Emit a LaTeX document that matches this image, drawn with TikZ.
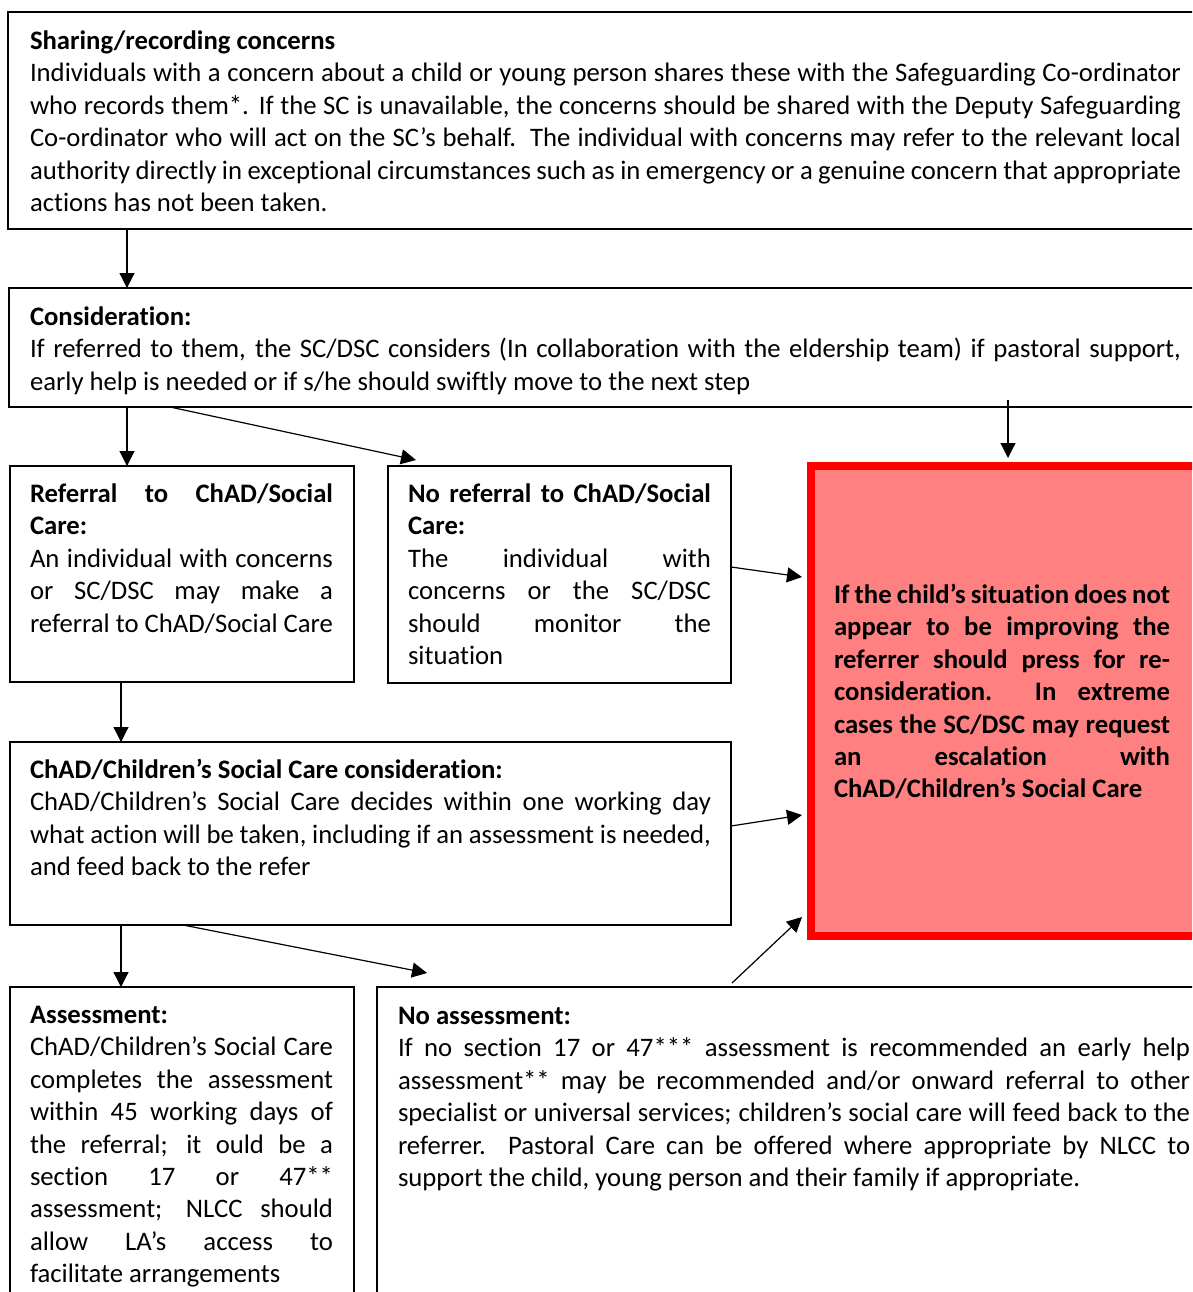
\documentclass[tikz,border=0pt]{standalone}
\usepackage{fontspec}
\setmainfont{Carlito}[RawFeature={-liga;-clig;-calt;-dlig;-rlig}]
\usetikzlibrary{arrows.meta}
\newcommand\myfs{\fontsize{26.7}{32.4}\selectfont}
\definecolor{redfill}{RGB}{255,128,128}
\definecolor{redline}{RGB}{255,0,0}
\tikzset{
  boxnode/.style={draw, line width=1.6pt, rectangle, anchor=north west, inner sep=0pt, outer sep=0pt},
  txt/.style={anchor=north west, inner sep=0pt, outer sep=0pt, align=justify, font=\myfs},
  arr/.style={line width=1.2pt, -{Triangle[length=15pt,width=15pt]}}
}
\begin{document}
\begin{tikzpicture}[x=1pt,y=-1pt]
\useasboundingbox (0,0) rectangle (1192,1292);
\clip (0,0) rectangle (1192,1292);
\fill[white] (0,0) rectangle (1192,1292);
% boxes
\node[boxnode, minimum width=1210pt, minimum height=217pt] (b1) at (8,12) {};
\node[boxnode, minimum width=1210pt, minimum height=119pt] (b2) at (9,288) {};
\node[boxnode, minimum width=344pt, minimum height=216pt] (b3) at (10,466) {};
\node[boxnode, minimum width=343pt, minimum height=217pt] (b4) at (388,466) {};
\node[boxnode, draw=redline, fill=redfill, line width=8pt, minimum width=400pt, minimum height=470pt] (red) at (811,466) {};
\node[boxnode, minimum width=721pt, minimum height=183pt] (b5) at (10,742) {};
\node[boxnode, minimum width=344pt, minimum height=400pt] (b6) at (10,987) {};
\node[boxnode, minimum width=900pt, minimum height=400pt] (b7) at (377,987) {};
% texts
\node[txt, text width=1151pt] (t1) at (30,25.5) {\rule{0pt}{24pt}\textbf{Sharing/recording concerns}\\
Individuals with a concern about a child or young person shares these with the Safeguarding Co-ordinator\linebreak
who records them*. If the SC is unavailable, the concerns should be shared with the Deputy Safeguarding\linebreak
Co-ordinator who will act on the SC’s behalf.\ \ The individual with concerns may refer to the relevant local\linebreak
authority directly in exceptional circumstances such as in emergency or a genuine concern that appropriate\linebreak
actions has not been taken.};
\node[txt, text width=1151pt] (t2) at (30,301.5) {\rule{0pt}{24pt}\textbf{Consideration:}\\
If referred to them, the SC/DSC considers (In collaboration with the eldership team) if pastoral support,\linebreak
early help is needed or if s/he should swiftly move to the next step};
\node[txt, text width=303pt] (t3) at (30,478.5) {\rule{0pt}{24pt}\textbf{Referral to ChAD/Social}\linebreak
\textbf{Care:}\\
An individual with concerns\linebreak
or SC/DSC may make a\linebreak
referral to ChAD/Social Care};
\node[txt, text width=303pt] (t4) at (408,478.5) {\rule{0pt}{24pt}\textbf{No referral to ChAD/Social}\linebreak
\textbf{Care:}\\
The individual with\linebreak
concerns or the SC/DSC\linebreak
should monitor the\linebreak
situation};
\node[txt, text width=336pt] (t5) at (834,579.5) {\bfseries\rule{0pt}{24pt}If the child’s situation does not\linebreak
appear to be improving the\linebreak
referrer should press for re-\linebreak
consideration.\ \ In extreme\linebreak
cases the SC/DSC may request\linebreak
an escalation with\linebreak
ChAD/Children’s Social Care};
\node[txt, text width=681pt] (t6) at (30,754.5) {\rule{0pt}{24pt}\textbf{ChAD/Children’s Social Care consideration:}\\
ChAD/Children’s Social Care decides within one working day\linebreak
what action will be taken, including if an assessment is needed,\linebreak
and feed back to the refer};
\node[txt, text width=303pt] (t7) at (30,999.5) {\rule{0pt}{24pt}\textbf{Assessment:}\\
ChAD/Children’s Social Care\linebreak
completes the assessment\linebreak
within 45 working days of\linebreak
the referral; it ould be a\linebreak
section 17 or 47**\linebreak
assessment; NLCC should\linebreak
allow LA’s access to\linebreak
facilitate arrangements};
\node[txt, text width=792pt] (t8) at (398,1000.5) {\rule{0pt}{24pt}\textbf{No assessment:}\\
If no section 17 or 47*** assessment is recommended an early help\linebreak
assessment** may be recommended and/or onward referral to other\linebreak
specialist or universal services; children’s social care will feed back to the\linebreak
referrer.\ \ Pastoral Care can be offered where appropriate by NLCC to\linebreak
support the child, young person and their family if appropriate.};
% guide coordinates
\coordinate (x127) at (127,0);
\coordinate (x170) at (170,0);
\coordinate (x121) at (121,0);
\coordinate (x183) at (183,0);
\coordinate (y567) at (0,567);
\coordinate (y826) at (0,826);
\coordinate (e3) at (416,460);
\coordinate (s4) at (1008,400);
\coordinate (e4) at (1008,458);
\coordinate (e5) at (802,577);
\coordinate (e7) at (802,815);
\coordinate (e9) at (427,973);
\coordinate (s10) at (732,983);
\coordinate (e10) at (802,917);
% connectors
\draw[arr] (b1.south -| x127) -- (b2.north -| x127);
\draw[arr] (b2.south -| x127) -- (b3.north -| x127);
\draw[arr] (b2.south -| x170) -- (e3);
\draw[arr] (s4) -- (e4);
\draw[arr] (b4.east |- y567) -- (e5);
\draw[arr] (b3.south -| x121) -- (b5.north -| x121);
\draw[arr] (b5.east |- y826) -- (e7);
\draw[arr] (b5.south -| x121) -- (b6.north -| x121);
\draw[arr] (b5.south -| x183) -- (e9);
\draw[arr] (s10) -- (e10);
\end{tikzpicture}
\end{document}
